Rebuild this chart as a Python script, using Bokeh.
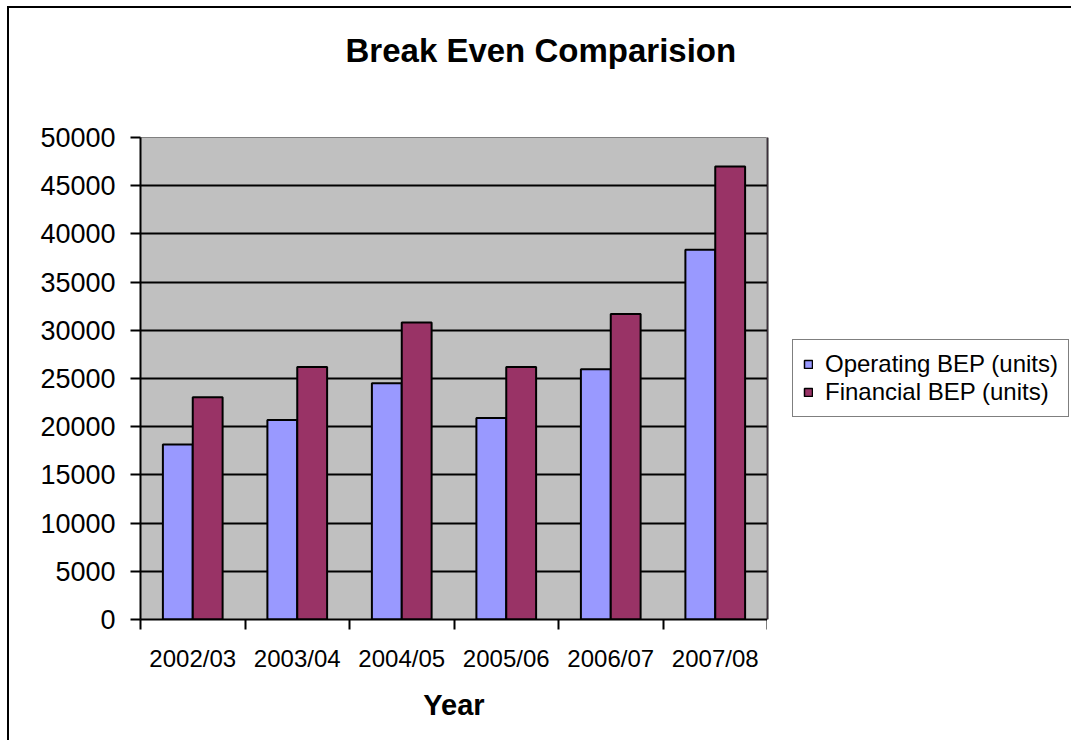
from bokeh.plotting import figure
from bokeh.layouts import row
from bokeh.models import FixedTicker, Legend, LegendItem, Range1d, ColumnDataSource
from bokeh.embed import file_html
from bokeh.resources import INLINE

# Break-even points per financial year
years = ["2002/03", "2003/04", "2004/05", "2005/06", "2006/07", "2007/08"]
operating_bep = [18150, 20700, 24500, 20900, 25950, 38350]
financial_bep = [23050, 26200, 30800, 26200, 31700, 47000]
y_ticks = [0, 5000, 10000, 15000, 20000, 25000, 30000, 35000, 40000, 45000, 50000]
series_names = ["Operating BEP (units)", "Financial BEP (units)"]
series_colors = ["#9999FF", "#993366"]

FONT = "Liberation Sans"
BAR_W = 0.2857

# the chart sits inside a bordered box offset from the page corner
OFF_X, OFF_Y = 9, 8
CHART_W, CHART_H = 758, 732
LEGEND_W = 304
FRAME_L, FRAME_T, FRAME_B = 131, 129, 611

centers = [i + 0.5 for i in range(len(years))]
src = ColumnDataSource(dict(
    x_op=[c - BAR_W / 2 for c in centers],
    x_fin=[c + BAR_W / 2 for c in centers],
    operating=operating_bep,
    financial=financial_bep,
))

p = figure(width=CHART_W, height=CHART_H, output_backend="svg", toolbar_location=None,
           x_range=Range1d(0, len(years)), y_range=Range1d(y_ticks[0], y_ticks[-1]),
           min_border_left=FRAME_L, min_border_right=0,
           min_border_top=FRAME_T, min_border_bottom=CHART_H - FRAME_B)

p.background_fill_color = "#C0C0C0"
p.border_fill_color = "white"
p.outline_line_color = "#808080"
p.outline_line_width = 1

# title, lifted well clear of the plot area by its bottom padding
# (padding order: left, right, top, bottom)
p.title.text = "Break Even Comparision"
p.title.align = "left"
p.title.vertical_align = "bottom"
p.title.offset = 205
p.title.standoff = 0
p.title.padding = (0, 0, 0, 69)
p.title.text_font = FONT
p.title.text_font_size = "33px"
p.title.text_font_style = "bold"
p.title.text_color = "black"

p.vbar(x="x_op", top="operating", width=BAR_W, source=src,
       fill_color=series_colors[0], line_color="black", line_width=2)
p.vbar(x="x_fin", top="financial", width=BAR_W, source=src,
       fill_color=series_colors[1], line_color="black", line_width=2)

# horizontal gridlines (frame top is left to the outline)
p.xgrid.visible = False
p.ygrid.ticker = FixedTicker(ticks=y_ticks[1:-1])
p.ygrid.grid_line_color = "black"
p.ygrid.grid_line_width = 2

# y axis
p.yaxis.ticker = FixedTicker(ticks=y_ticks, minor_ticks=[])
p.yaxis.axis_line_color = "black"
p.yaxis.axis_line_width = 2
p.yaxis.major_tick_out = 10
p.yaxis.major_tick_in = 0
p.yaxis.major_tick_line_width = 2
p.yaxis.major_tick_line_color = "black"
p.yaxis.minor_tick_line_color = None
p.yaxis.major_label_text_font = FONT
p.yaxis.major_label_text_font_size = "27px"
p.yaxis.major_label_text_color = "black"
p.yaxis.major_label_standoff = 15

# x axis: labels at category centres, tick marks at category boundaries
p.xaxis.ticker = FixedTicker(ticks=centers, minor_ticks=list(range(len(years) + 1)))
p.xaxis.major_label_overrides = {c: y for c, y in zip(centers, years)}
p.xaxis.major_tick_line_color = None
p.xaxis.minor_tick_line_color = "black"
p.xaxis.minor_tick_line_width = 2
p.xaxis.minor_tick_out = 10
p.xaxis.minor_tick_in = 0
p.xaxis.axis_line_color = "black"
p.xaxis.axis_line_width = 2
p.xaxis.major_label_text_font = FONT
p.xaxis.major_label_text_font_size = "24px"
p.xaxis.major_label_text_color = "black"
p.xaxis.major_label_standoff = 15
p.xaxis.axis_label = "Year"
p.xaxis.axis_label_text_font = FONT
p.xaxis.axis_label_text_font_size = "29px"
p.xaxis.axis_label_text_font_style = "bold"
p.xaxis.axis_label_text_color = "black"
p.xaxis.axis_label_standoff = 14

# legend panel to the right of the chart (its frame lines up with the chart frame)
lp = figure(width=LEGEND_W, height=CHART_H, output_backend="svg", toolbar_location=None,
            x_axis_type=None, y_axis_type=None, min_border=0,
            x_range=Range1d(0, 1), y_range=Range1d(0, 1))
lp.outline_line_color = None
lp.background_fill_color = "white"
lp.border_fill_color = "white"
lp.xgrid.visible = False
lp.ygrid.visible = False

# key swatches: one-bar renderers parked outside the panel's visible range
keys = []
for name, color in zip(series_names, series_colors):
    r = lp.vbar(x=[-1], top=[1], width=BAR_W, fill_color=color,
                line_color="black", line_width=1.5)
    keys.append(LegendItem(label=name, renderers=[r]))

legend = Legend(items=keys, location=(25, 202), margin=0, padding=10, spacing=0,
                glyph_width=10, glyph_height=10, label_height=28,
                label_standoff=12, label_text_font=FONT,
                label_text_font_size="24px", label_text_color="black",
                border_line_color="black", border_line_width=1.5,
                background_fill_color="white")
lp.add_layout(legend)

layout = row(p, lp, spacing=0, margin=(OFF_Y - 2, 0, 0, OFF_X - 2),
             styles={"border-left": "2px solid black", "border-top": "2px solid black"})

open("out.html", "w").write(file_html(layout, INLINE))
